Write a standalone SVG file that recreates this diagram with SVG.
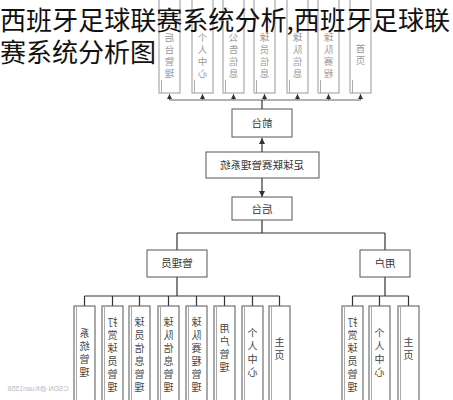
<svg xmlns="http://www.w3.org/2000/svg" width="453" height="400" viewBox="0 0 453 400">
<defs>
<style>
.bg{fill:#fff}
.box{fill:#fff;stroke:#555;stroke-width:1}
.tbox{fill:#fff;stroke:#999;stroke-width:1}
.inner{stroke:#aaa;stroke-width:1;fill:none}
.line{stroke:#333;stroke-width:1.2;fill:none}
.tline{stroke:#666;stroke-width:1;fill:none}
.lbl{font-family:"Noto Sans CJK SC","Noto Sans",sans-serif;font-size:10.5px;fill:#333;text-anchor:middle}
.vt{font-family:"Noto Sans CJK SC","Noto Sans",sans-serif;font-size:10px;fill:#444;text-anchor:middle}
.tvt{font-family:"Noto Sans CJK SC","Noto Sans",sans-serif;font-size:9.5px;fill:#999;text-anchor:middle}
.title{font-family:"Noto Sans CJK SC","Noto Sans",sans-serif;font-size:26px;fill:#111}
.wm{font-family:"Liberation Sans",sans-serif;font-size:7px;fill:#bbb}
</style>
<marker id="ah" viewBox="0 0 10 10" refX="10" refY="5" markerWidth="5" markerHeight="5" orient="auto"><path d="M0,0L10,5L0,10z" fill="#333"/></marker>
</defs>
<rect class="bg" x="0" y="0" width="453" height="400"/>

<g id="connectors">
<path class="tline" d="M169.5,100H360.5"/>
<path class="tline" marker-end="url(#ah)" d="M169.5,100V94"/>
<path class="tline" marker-end="url(#ah)" d="M202.5,100V94"/>
<path class="tline" marker-end="url(#ah)" d="M233.5,100V94"/>
<path class="tline" marker-end="url(#ah)" d="M264.5,100V94"/>
<path class="tline" marker-end="url(#ah)" d="M297.5,100V94"/>
<path class="tline" marker-end="url(#ah)" d="M328.5,100V94"/>
<path class="tline" marker-end="url(#ah)" d="M360.5,100V94"/>
<path class="line" d="M262,100V109"/>
<path class="line" marker-end="url(#ah)" d="M262,152V138"/>
<path class="line" marker-end="url(#ah)" d="M262,178V197"/>
<path class="line" d="M262,220V233M177,233H385M177,233V250M385,233V250"/>
<path class="line" d="M177,277V296M84.5,296H279.5"/>
<path class="line" d="M84.5,296V306M112.5,296V306M139.5,296V306M168.5,296V306M196.5,296V306M224.5,296V306M252.5,296V306M279.5,296V306"/>
<path class="line" d="M385,277V296M352.5,296H408.5M352.5,296V306M379.5,296V306M408.5,296V306"/>
</g>

<g id="top-boxes">
<g id="t1"><rect class="tbox" x="159" y="-2" width="21" height="95"/><path class="inner" d="M161.5,80V93"/><g transform="translate(169.5,0) scale(-1,1)"><text class="tvt"><tspan x="0" y="41">后</tspan><tspan x="0" y="53">台</tspan><tspan x="0" y="65">管</tspan><tspan x="0" y="77">理</tspan></text></g></g>
<g id="t2"><rect class="tbox" x="192" y="-2" width="21" height="95"/><path class="inner" d="M194.5,80V93"/><g transform="translate(202.5,0) scale(-1,1)"><text class="tvt"><tspan x="0" y="41">个</tspan><tspan x="0" y="53">人</tspan><tspan x="0" y="65">中</tspan><tspan x="0" y="77">心</tspan></text></g></g>
<g id="t3"><rect class="tbox" x="223" y="-2" width="21" height="95"/><path class="inner" d="M225.5,80V93"/><g transform="translate(233.5,0) scale(-1,1)"><text class="tvt"><tspan x="0" y="41">公</tspan><tspan x="0" y="53">告</tspan><tspan x="0" y="65">信</tspan><tspan x="0" y="77">息</tspan></text></g></g>
<g id="t4"><rect class="tbox" x="254" y="-2" width="21" height="95"/><path class="inner" d="M256.5,80V93"/><g transform="translate(264.5,0) scale(-1,1)"><text class="tvt"><tspan x="0" y="41">球</tspan><tspan x="0" y="53">员</tspan><tspan x="0" y="65">信</tspan><tspan x="0" y="77">息</tspan></text></g></g>
<g id="t5"><rect class="tbox" x="287" y="-2" width="21" height="95"/><path class="inner" d="M289.5,80V93"/><g transform="translate(297.5,0) scale(-1,1)"><text class="tvt"><tspan x="0" y="41">球</tspan><tspan x="0" y="53">队</tspan><tspan x="0" y="65">信</tspan><tspan x="0" y="77">息</tspan></text></g></g>
<g id="t6"><rect class="tbox" x="318" y="-2" width="21" height="95"/><path class="inner" d="M320.5,80V93"/><g transform="translate(328.5,0) scale(-1,1)"><text class="tvt"><tspan x="0" y="41">球</tspan><tspan x="0" y="53">队</tspan><tspan x="0" y="65">赛</tspan><tspan x="0" y="77">程</tspan></text></g></g>
<g id="t7"><rect class="tbox" x="350" y="-2" width="21" height="95"/><path class="inner" d="M352.5,80V93"/><g transform="translate(360.5,0) scale(-1,1)"><text class="tvt"><tspan x="0" y="52">首</tspan><tspan x="0" y="64">页</tspan></text></g></g>
</g>

<g id="qiantai"><rect class="box" x="232" y="109" width="60" height="28"/><g transform="translate(262,127) scale(-1,1)"><text class="lbl" x="0" y="0">前台</text></g></g>
<g id="system"><rect class="box" x="206" y="152" width="113" height="26"/><g transform="translate(262,169) scale(-1,1)"><text class="lbl" x="0" y="0">足球联赛管理系统</text></g></g>
<g id="houtai"><rect class="box" x="232" y="197" width="60" height="23"/><g transform="translate(262,212.5) scale(-1,1)"><text class="lbl" x="0" y="0">后台</text></g></g>
<g id="admin"><rect class="box" x="147" y="250" width="60" height="27"/><g transform="translate(177,267) scale(-1,1)"><text class="lbl" x="0" y="0">管理员</text></g></g>
<g id="user"><rect class="box" x="360" y="250" width="50" height="27"/><g transform="translate(385,267) scale(-1,1)"><text class="lbl" x="0" y="0">用户</text></g></g>

<g id="admin-leaves">
<g id="a1"><rect class="box" x="74" y="306" width="21" height="110"/><path class="inner" d="M76.5,306V410"/><g transform="translate(84.5,0) scale(-1,1)"><text class="vt"><tspan x="0" y="337">系</tspan><tspan x="0" y="350">统</tspan><tspan x="0" y="363">管</tspan><tspan x="0" y="376">理</tspan></text></g></g>
<g id="a2"><rect class="box" x="102" y="306" width="21" height="110"/><path class="inner" d="M104.5,306V410"/><g transform="translate(112.5,0) scale(-1,1)"><text class="vt"><tspan x="0" y="326">打</tspan><tspan x="0" y="339">赏</tspan><tspan x="0" y="352">球</tspan><tspan x="0" y="365">员</tspan><tspan x="0" y="378">管</tspan><tspan x="0" y="391">理</tspan></text></g></g>
<g id="a3"><rect class="box" x="129" y="306" width="21" height="110"/><path class="inner" d="M131.5,306V410"/><g transform="translate(139.5,0) scale(-1,1)"><text class="vt"><tspan x="0" y="326">球</tspan><tspan x="0" y="339">员</tspan><tspan x="0" y="352">信</tspan><tspan x="0" y="365">息</tspan><tspan x="0" y="378">管</tspan><tspan x="0" y="391">理</tspan></text></g></g>
<g id="a4"><rect class="box" x="158" y="306" width="21" height="110"/><path class="inner" d="M160.5,306V410"/><g transform="translate(168.5,0) scale(-1,1)"><text class="vt"><tspan x="0" y="326">球</tspan><tspan x="0" y="339">队</tspan><tspan x="0" y="352">信</tspan><tspan x="0" y="365">息</tspan><tspan x="0" y="378">管</tspan><tspan x="0" y="391">理</tspan></text></g></g>
<g id="a5"><rect class="box" x="186" y="306" width="21" height="110"/><path class="inner" d="M188.5,306V410"/><g transform="translate(196.5,0) scale(-1,1)"><text class="vt"><tspan x="0" y="326">球</tspan><tspan x="0" y="339">队</tspan><tspan x="0" y="352">赛</tspan><tspan x="0" y="365">程</tspan><tspan x="0" y="378">管</tspan><tspan x="0" y="391">理</tspan></text></g></g>
<g id="a6"><rect class="box" x="214" y="306" width="21" height="110"/><path class="inner" d="M216.5,306V410"/><g transform="translate(224.5,0) scale(-1,1)"><text class="vt"><tspan x="0" y="332">用</tspan><tspan x="0" y="345">户</tspan><tspan x="0" y="358">管</tspan><tspan x="0" y="371">理</tspan></text></g></g>
<g id="a7"><rect class="box" x="242" y="306" width="21" height="110"/><path class="inner" d="M244.5,306V410"/><g transform="translate(252.5,0) scale(-1,1)"><text class="vt"><tspan x="0" y="337">个</tspan><tspan x="0" y="350">人</tspan><tspan x="0" y="363">中</tspan><tspan x="0" y="376">心</tspan></text></g></g>
<g id="a8"><rect class="box" x="269" y="306" width="21" height="110"/><path class="inner" d="M271.5,306V410"/><g transform="translate(279.5,0) scale(-1,1)"><text class="vt"><tspan x="0" y="346">主</tspan><tspan x="0" y="359">页</tspan></text></g></g>
</g>

<g id="user-leaves">
<g id="u1"><rect class="box" x="342" y="306" width="21" height="110"/><path class="inner" d="M344.5,306V410"/><g transform="translate(352.5,0) scale(-1,1)"><text class="vt"><tspan x="0" y="326">打</tspan><tspan x="0" y="339">赏</tspan><tspan x="0" y="352">球</tspan><tspan x="0" y="365">员</tspan><tspan x="0" y="378">管</tspan><tspan x="0" y="391">理</tspan></text></g></g>
<g id="u2"><rect class="box" x="369" y="306" width="21" height="110"/><path class="inner" d="M371.5,306V410"/><g transform="translate(379.5,0) scale(-1,1)"><text class="vt"><tspan x="0" y="337">个</tspan><tspan x="0" y="350">人</tspan><tspan x="0" y="363">中</tspan><tspan x="0" y="376">心</tspan></text></g></g>
<g id="u3"><rect class="box" x="398" y="306" width="21" height="110"/><path class="inner" d="M400.5,306V410"/><g transform="translate(408.5,0) scale(-1,1)"><text class="vt"><tspan x="0" y="346">主</tspan><tspan x="0" y="359">页</tspan></text></g></g>
</g>

<g id="watermark" transform="translate(38,391) scale(-1,1)"><text class="wm" x="0" y="0" text-anchor="middle">CSDN @Kuan1558</text></g>

<g id="title">
<text class="title" x="0" y="29.5" textLength="450" lengthAdjust="spacingAndGlyphs">西班牙足球联赛系统分析,西班牙足球联</text>
<text class="title" x="0" y="62">赛系统分析图</text>
</g>
</svg>
